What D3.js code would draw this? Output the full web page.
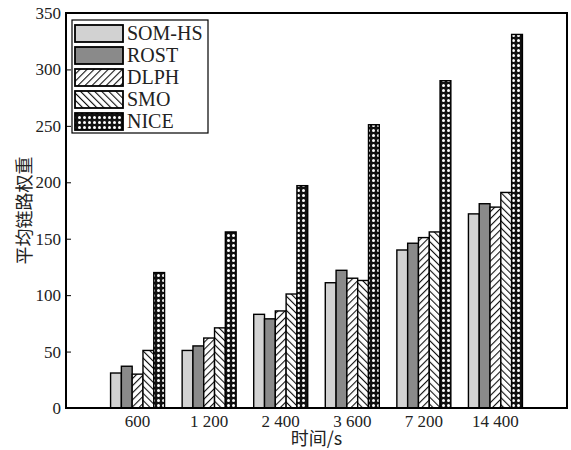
<!DOCTYPE html>
<html>
<head>
<meta charset="utf-8">
<script src="https://cdn.jsdelivr.net/npm/d3@7"></script>
<style>
  body { margin: 0; background: #fff; }
  text { font-family: "Liberation Serif", "DejaVu Serif", serif; }
</style>
</head>
<body>
<div id="canvas"></div>
<script>
var categories = ['600', '1 200', '2 400', '3 600', '7 200', '14 400']
var seriesNames = ['SOM-HS', 'ROST', 'DLPH', 'SMO', 'NICE']
var somhs = [31, 51, 83, 111, 140, 172]
var rost = [37, 55, 79, 122, 146, 181]
var dlph = [30, 62, 86, 115, 151, 178]
var smo = [51, 71, 101, 113, 156, 191]
var nice = [120, 156, 197, 251, 290, 331]
var yTicks = [0, 50, 100, 150, 200, 250, 300, 350]

var series = [somhs, rost, dlph, smo, nice]

var margin = {top: 13, right: 4, bottom: 42, left: 66},
  width = 571 - margin.left - margin.right,
  height = 450 - margin.top - margin.bottom

var root = d3.select('#canvas')
  .append('svg')
  .attr('width', 571)
  .attr('height', 450)

// fill patterns
var defs = root.append('defs')
var p1 = defs.append('pattern').attr('id', 'p-dlph')
  .attr('patternUnits', 'userSpaceOnUse').attr('width', 5).attr('height', 5)
  .attr('patternTransform', 'rotate(45)')
p1.append('rect').attr('width', 5).attr('height', 5).attr('fill', '#fff')
p1.append('line').attr('x1', 0).attr('y1', 0).attr('x2', 0).attr('y2', 5)
  .attr('stroke', '#111').attr('stroke-width', 2.2)
var p2 = defs.append('pattern').attr('id', 'p-smo')
  .attr('patternUnits', 'userSpaceOnUse').attr('width', 5).attr('height', 5)
  .attr('patternTransform', 'rotate(-45)')
p2.append('rect').attr('width', 5).attr('height', 5).attr('fill', '#fff')
p2.append('line').attr('x1', 0).attr('y1', 0).attr('x2', 0).attr('y2', 5)
  .attr('stroke', '#111').attr('stroke-width', 2.2)
var p3 = defs.append('pattern').attr('id', 'p-nice')
  .attr('patternUnits', 'userSpaceOnUse').attr('width', 5).attr('height', 5)
p3.append('rect').attr('width', 5).attr('height', 5).attr('fill', '#111')
p3.append('circle').attr('cx', 2.5).attr('cy', 2.5).attr('r', 1.5).attr('fill', '#fff')

var fills = ['#d2d2d2', '#8a8a8a', 'url(#p-dlph)', 'url(#p-smo)', 'url(#p-nice)']

var svg = root.append('g')
  .attr('transform', 'translate(' + margin.left + ',' + margin.top + ')')

var x = d3.scaleLinear()
  .domain([0, categories.length + 1])
  .range([0, width])

var y = d3.scaleLinear()
  .domain([0, 350])
  .range([height, 0])

var barW = 10.8
var groupW = barW * seriesNames.length

// bars
series.forEach((vals, si) => {
  svg.append('g')
    .selectAll('rect')
    .data(vals)
    .enter()
    .append('rect')
    .attr('x', (d, i) => x(i + 1) - groupW / 2 + si * barW)
    .attr('y', d => y(d))
    .attr('width', barW)
    .attr('height', d => height - y(d))
    .attr('fill', fills[si])
    .attr('stroke', '#000')
    .attr('stroke-width', 1.4)
})

// frame
svg.append('rect')
  .attr('width', width)
  .attr('height', height)
  .attr('fill', 'none')
  .attr('stroke', '#000')
  .attr('stroke-width', 2)

// y axis
var yAxis = svg.append('g')
  .call(d3.axisLeft(y).tickValues(yTicks).tickSize(-5).tickPadding(5))
yAxis.select('.domain').remove()
yAxis.selectAll('text').style('font-size', '17px').attr('fill', '#222')
  .style('font-family', '"Liberation Serif", serif')

// x axis labels
svg.append('g')
  .selectAll('text')
  .data(categories)
  .enter()
  .append('text')
  .attr('x', (d, i) => x(i + 1))
  .attr('y', height + 19)
  .attr('text-anchor', 'middle')
  .style('font-size', '17px')
  .attr('fill', '#222')
  .text(d => d)

svg.append('text')
  .attr('x', width / 2)
  .attr('y', height + 37)
  .attr('text-anchor', 'middle')
  .style('font-family', '"Noto Sans CJK SC"')
  .style('font-size', '18px')
  .attr('fill', '#222')
  .text('时间/s')

svg.append('text')
  .attr('transform', 'translate(' + (-35) + ',' + (height / 2) + ') rotate(-90)')
  .attr('text-anchor', 'middle')
  .style('font-family', '"Noto Sans CJK SC"')
  .style('font-size', '18px')
  .attr('fill', '#222')
  .text('平均链路权重')

// legend
var legend = svg.append('g').attr('transform', 'translate(6,7)')
legend.append('rect')
  .attr('width', 136)
  .attr('height', 113)
  .attr('fill', '#fff')
  .attr('stroke', '#000')
  .attr('stroke-width', 1.2)
seriesNames.forEach((name, i) => {
  legend.append('rect')
    .attr('x', 3)
    .attr('y', 5 + i * 22)
    .attr('width', 48)
    .attr('height', 17)
    .attr('fill', fills[i])
    .attr('stroke', '#000')
    .attr('stroke-width', 1.8)
  legend.append('text')
    .attr('x', 55)
    .attr('y', 20 + i * 22)
    .style('font-size', '20px')
    .attr('fill', '#222')
    .text(name)
})
</script>
</body>
</html>
